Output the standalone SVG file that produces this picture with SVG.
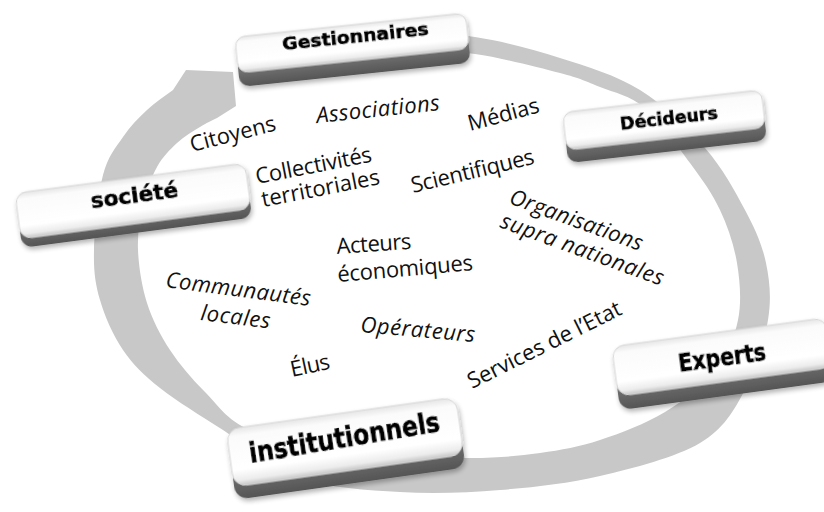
<svg xmlns="http://www.w3.org/2000/svg" width="824" height="512" viewBox="0 0 824 512">
  <defs>
    <linearGradient id="faceGrad" x1="0" y1="0" x2="0" y2="1">
      <stop offset="0" stop-color="#e6e6e6"/>
      <stop offset="0.14" stop-color="#fbfbfb"/>
      <stop offset="0.72" stop-color="#ffffff"/>
      <stop offset="0.9" stop-color="#ececec"/>
      <stop offset="1" stop-color="#c4c4c4"/>
    </linearGradient>
    <linearGradient id="sideGrad" x1="0" y1="0" x2="0" y2="1">
      <stop offset="0" stop-color="#9a9a9a"/>
      <stop offset="0.6" stop-color="#6e6e6e"/>
      <stop offset="1" stop-color="#555555"/>
    </linearGradient>
    <filter id="keyShadow" x="-10%" y="-30%" width="120%" height="170%">
      <feGaussianBlur in="SourceAlpha" stdDeviation="2.5"/>
      <feOffset dx="1" dy="3" result="b"/>
      <feComponentTransfer><feFuncA type="linear" slope="0.3"/></feComponentTransfer>
      <feMerge><feMergeNode/><feMergeNode in="SourceGraphic"/></feMerge>
    </filter>
    <style>
      .ring { fill: #c8c8c8; }
      .face { fill: url(#faceGrad); stroke: #d6d6d6; stroke-width: 1; }
      .side { fill: url(#sideGrad); }
      .key  { font-family: "DejaVu Sans", "Liberation Sans", sans-serif; font-weight: bold; fill: #000; stroke: #000; stroke-width: 0.7; text-anchor: middle; }
      .lbl  { font-family: "Open Sans", "Noto Sans", "Liberation Sans", sans-serif; font-size: 22px; fill: #111; }
      .it   { font-style: italic; }
    </style>
  </defs>

  <rect width="824" height="512" fill="#ffffff"/>

  <!-- circular arrow running clockwise from Gestionnaires round to the top-left head -->
  <g id="connectors">
    <path id="cycle-arrow" class="ring" d="M 400,34
      C 425,33.7 448.3,33 475,37
      C 501.7,41 532.5,49.2 560,58
      C 587.5,66.8 615.8,75 640,90
      C 664.2,105 687.5,128 705,148
      C 722.5,168 734.8,190.8 745,210
      C 755.2,229.2 762.2,244.7 766,263
      C 769.8,281.3 771.5,298.8 768,320
      C 764.5,341.2 756.3,369.5 745,390
      C 733.7,410.5 724.2,428.7 700,443
      C 675.8,457.3 633.3,468.2 600,476
      C 566.7,483.8 533.3,487.3 500,490
      C 466.7,492.7 433.3,494 400,492
      C 366.7,490 329.5,488.3 300,478
      C 270.5,467.7 246.3,445 223,430
      C 199.7,415 176.7,401.3 160,388
      C 143.3,374.7 133,364.7 123,350
      C 113,335.3 104.8,316.7 100,300
      C 95.2,283.3 93.5,270.8 94,250
      C 94.5,229.2 98.2,193.8 103,175
      C 107.8,156.2 115.7,147.8 123,137
      C 130.3,126.2 138.7,117.8 147,110
      C 155.3,102.2 164.3,96.7 173,90
      L 186,70 L 233,72 L 236,106 L 217,118
      C 211.3,121 206.7,122.8 200,127
      C 193.3,131.2 184.2,136.3 177,143
      C 169.8,149.7 162.7,156.7 157,167
      C 151.3,177.3 146.2,191.2 143,205
      C 139.8,218.8 137.3,233.7 138,250
      C 138.7,266.3 141.7,286.3 147,303
      C 152.3,319.7 160.3,335.2 170,350
      C 179.7,364.8 191.7,378.7 205,392
      C 218.3,405.3 225.8,419.5 250,430
      C 274.2,440.5 313.3,450.3 350,455
      C 386.7,459.7 438.3,458.3 470,458
      C 501.7,457.7 518.3,456 540,453
      C 561.7,450 579.2,446.8 600,440
      C 620.8,433.2 645.8,423.7 665,412
      C 684.2,400.3 702.8,385.3 715,370
      C 727.2,354.7 734.3,337.8 738,320
      C 741.7,302.2 740,281.3 737,263
      C 734,244.7 727.8,226.7 720,210
      C 712.2,193.3 702.5,180 690,163
      C 677.5,146 660,120.7 645,108
      C 630,95.3 614.2,92.8 600,87
      C 585.8,81.2 580.8,78.5 560,73
      C 539.2,67.5 501.7,57.8 475,54
      C 448.3,50.2 425,51.3 400,50 Z"/>
  </g>

  <!-- actors placed inside the cycle -->
  <g id="actors">
    <text id="t-citoyens" class="lbl" transform="translate(192,152) rotate(-14.3)" textLength="88">Citoyens</text>
    <text id="t-associations" class="lbl it" transform="translate(317,123) rotate(-6)" textLength="124">Associations</text>
    <text id="t-medias" class="lbl" transform="translate(470,131) rotate(-15)" textLength="73">Médias</text>
    <text id="t-collectivites" class="lbl" transform="translate(257,184) rotate(-11)" textLength="118">Collectivités</text>
    <text id="t-territoriales" class="lbl" transform="translate(263,207) rotate(-11)" textLength="120">territoriales</text>
    <text id="t-scientifiques" class="lbl" transform="translate(413,193) rotate(-13.5)" textLength="126">Scientifiques</text>
    <text id="t-organisations" class="lbl it" transform="translate(508,203) rotate(20)" textLength="140">Organisations</text>
    <text id="t-supra" class="lbl it" transform="translate(499,227) rotate(20)" textLength="172">supra nationales</text>
    <text id="t-acteurs" class="lbl" transform="translate(337,254) rotate(-4)" textLength="75">Acteurs</text>
    <text id="t-economiques" class="lbl" transform="translate(338,282) rotate(-5)" textLength="136">économiques</text>
    <text id="t-communautes" class="lbl it" transform="translate(165,287) rotate(7.5)" textLength="146">Communautés</text>
    <text id="t-locales" class="lbl it" transform="translate(200,320) rotate(7)" textLength="70">locales</text>
    <text id="t-operateurs" class="lbl it" transform="translate(360,332) rotate(5)" textLength="115">Opérateurs</text>
    <text id="t-elus" class="lbl" transform="translate(292,377) rotate(-12)" textLength="40">Élus</text>
    <text id="t-services" class="lbl" transform="translate(472,389) rotate(-26.4)" textLength="169">Services de l’Etat</text>
  </g>

  <!-- keycap nodes -->
  <g id="node-gestionnaires" filter="url(#keyShadow)" transform="translate(352,43) rotate(-6)">
    <rect class="side" x="-116" y="-4" width="232" height="36" rx="10"/>
    <rect class="face" x="-116" y="-18" width="232" height="36" rx="10"/>
    <text class="key" x="4" y="0" font-size="18" textLength="147" lengthAdjust="spacingAndGlyphs">Gestionnaires</text>
  </g>

  <g id="node-decideurs" filter="url(#keyShadow)" transform="translate(664,120) rotate(-6.5)">
    <rect class="side" x="-100" y="-6" width="200" height="38" rx="10"/>
    <rect class="face" x="-100" y="-19" width="200" height="38" rx="10"/>
    <text class="key" x="5" y="5" font-size="18" textLength="98" lengthAdjust="spacingAndGlyphs">Décideurs</text>
  </g>

  <g id="node-societe" filter="url(#keyShadow)" transform="translate(133,201) rotate(-7.5)">
    <rect class="side" x="-116" y="-14" width="232" height="46" rx="11"/>
    <rect class="face" x="-116" y="-23" width="232" height="46" rx="11"/>
    <text class="key" x="2" y="2" font-size="22" textLength="88" lengthAdjust="spacingAndGlyphs">société</text>
  </g>

  <g id="node-experts" filter="url(#keyShadow)" transform="translate(722,357) rotate(-7.7)">
    <rect class="side" x="-108" y="-11" width="216" height="50" rx="12"/>
    <rect class="face" x="-108" y="-25" width="216" height="50" rx="12"/>
    <text class="key" x="0" y="9" font-size="24" textLength="88" lengthAdjust="spacingAndGlyphs">Experts</text>
  </g>

  <g id="node-institutionnels" filter="url(#keyShadow)" transform="translate(345,442) rotate(-8)">
    <rect class="side" x="-116" y="-16" width="232" height="58" rx="13"/>
    <rect class="face" x="-116" y="-29" width="232" height="58" rx="13"/>
    <text class="key" x="0" y="5" font-size="28" textLength="193" lengthAdjust="spacingAndGlyphs" transform="rotate(-1.5)">institutionnels</text>
  </g>
</svg>
